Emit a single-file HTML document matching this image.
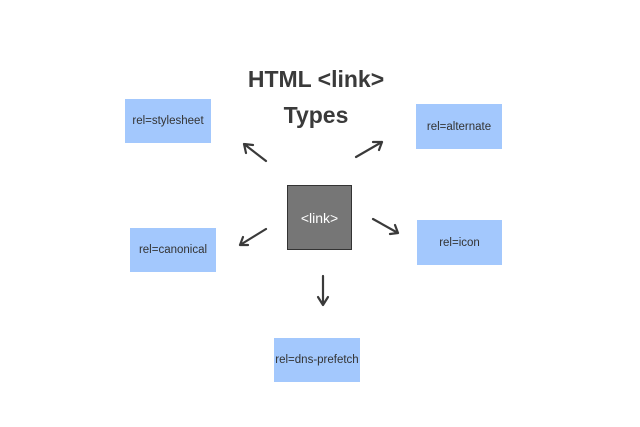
<!DOCTYPE html>
<html><head><style>
body{margin:0;width:640px;height:427px;background:#fff;position:relative;font-family:"Liberation Sans",sans-serif;overflow:hidden}
.b{position:absolute;background:#a3c8fd;color:#333;font-size:11.5px;display:flex;align-items:center;justify-content:center}
.t{position:absolute;left:216px;width:200px;text-align:center;font-weight:bold;font-size:23px;color:#3a3a3a}
</style></head><body>
<div class="t" style="top:66px">HTML &lt;link&gt;</div>
<div class="t" style="top:102px">Types</div>
<div class="b" style="left:125px;top:99px;width:86px;height:44px">rel=stylesheet</div>
<div class="b" style="left:416px;top:104px;width:86px;height:45px">rel=alternate</div>
<div class="b" style="left:130px;top:228px;width:86px;height:44px">rel=canonical</div>
<div class="b" style="left:417px;top:220px;width:85px;height:45px">rel=icon</div>
<div class="b" style="left:274px;top:338px;width:86px;height:44px">rel=dns-prefetch</div>
<div style="position:absolute;left:287px;top:185px;width:63px;height:63px;background:#767676;border:1px solid #333;color:#fff;font-size:14px;display:flex;align-items:center;justify-content:center">&lt;link&gt;</div>
<svg width="640" height="427" style="position:absolute;left:0;top:0" fill="none" stroke="#3a3a3a" stroke-width="2.2" stroke-linecap="round">
<path d="M266 161L244 144M244 144l2 9M244 144l9 1"/>
<path d="M356 157L382 142M382 142l-9 0M382 142l-3 8"/>
<path d="M266 229L240 245M240 245l3-8M240 245l8 0"/>
<path d="M373 219L398 233M398 233l-3-8M398 233l-8 1"/>
<path d="M323 276L323 305M323 305l-5-8M323 305l5-8"/>
</svg>
</body></html>
